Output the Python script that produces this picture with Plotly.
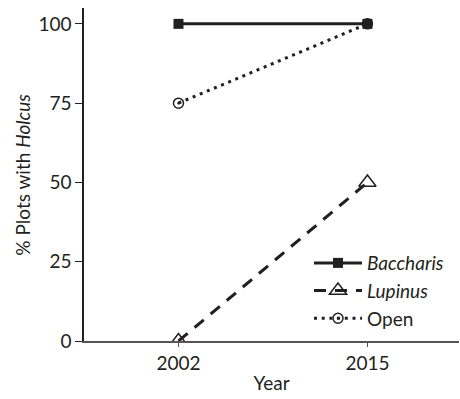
import plotly.graph_objects as go

years = [2002, 2015]
baccharis = [100, 100]
lupinus = [0, 50]
open_plots = [75, 100]
y_ticks = [0, 25, 50, 75, 100]

font_family = "Lato, Open Sans, sans-serif"
ink = "#231f20"

fig = go.Figure()
fig.add_trace(go.Scatter(
    x=years, y=baccharis, name="<i>Baccharis</i>", mode="lines+markers",
    line=dict(color=ink, width=3, dash="solid"),
    marker=dict(symbol="square", size=10, color=ink),
))
fig.add_trace(go.Scatter(
    x=years, y=lupinus, name="<i>Lupinus</i>", mode="lines+markers",
    line=dict(color=ink, width=3, dash="12px,9px"),
    marker=dict(symbol="triangle-up-open", size=15, color=ink,
                line=dict(width=1.5)),
))
fig.add_trace(go.Scatter(
    x=years, y=open_plots, name="Open", mode="lines+markers",
    line=dict(color=ink, width=3, dash="3px,4.7px"),
    marker=dict(symbol="circle-open-dot", size=10, color=ink,
                line=dict(width=1.5)),
))

fig.update_layout(
    width=460, height=399,
    margin=dict(l=84, r=1, t=8, b=58),
    paper_bgcolor="white", plot_bgcolor="white",
    font=dict(family=font_family, size=19, color=ink),
    showlegend=True,
    legend=dict(x=0.60, y=0.15, xanchor="left", yanchor="middle",
                bgcolor="rgba(0,0,0,0)", font=dict(size=19),
                itemwidth=48, tracegroupgap=0),
    xaxis=dict(
        range=[1995.5, 2021.3], tickvals=years, ticktext=[str(y) for y in years],
        showline=True, linecolor="#555", linewidth=1.5, ticks="outside",
        ticklen=4, tickcolor="#555", showgrid=False, zeroline=False,
        title=dict(text="Year", standoff=4, font=dict(size=19)),
    ),
    yaxis=dict(
        range=[0, 105], tickvals=y_ticks,
        showline=True, linecolor=ink, linewidth=1.5, ticks="outside",
        ticklen=7, tickcolor=ink, showgrid=False, zeroline=False,
    ),
    annotations=[dict(
        text="% Plots with <i>Holcus</i>", textangle=-90,
        xref="paper", yref="paper", x=-0.165, y=0.5,
        xanchor="center", yanchor="middle", showarrow=False,
        font=dict(size=19),
    )],
)

fig.write_html("out.html")
